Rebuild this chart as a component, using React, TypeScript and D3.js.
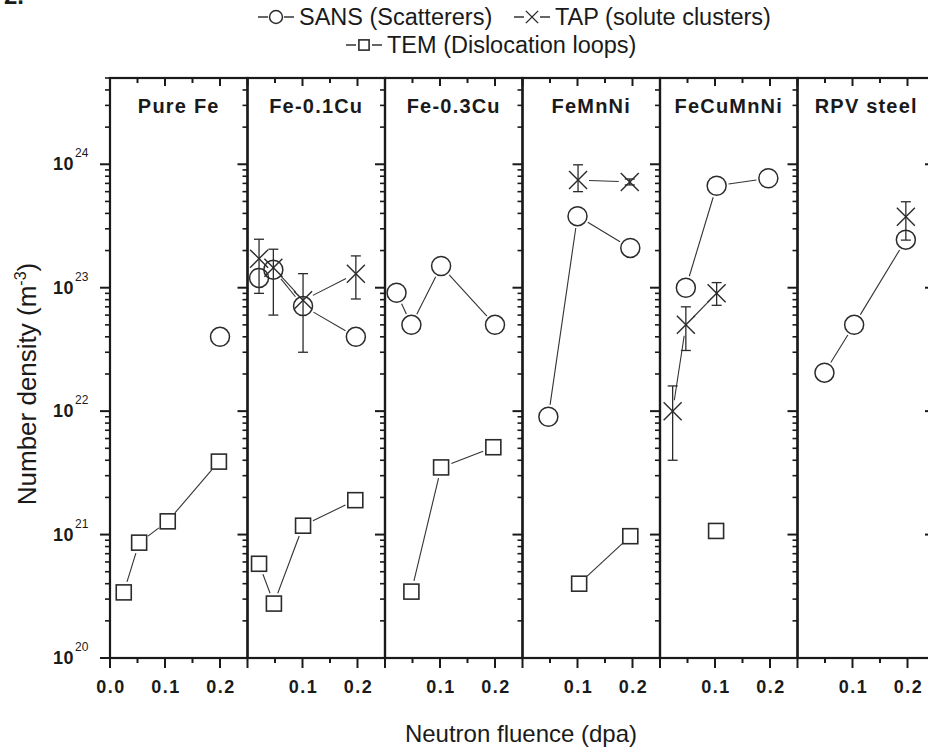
import React from "react";
import * as d3 from "d3";

// ---------- data ----------
const panelNames = ["Pure Fe", "Fe-0.1Cu", "Fe-0.3Cu", "FeMnNi", "FeCuMnNi", "RPV steel"];

// SANS (scatterers): [fluence dpa, number density m^-3]
const sansData: number[][][] = [
  [[0.2, 4.0e22]],
  [[0.021, 1.2e23], [0.047, 1.4e23], [0.101, 7.1e22], [0.197, 4.0e22]],
  [[0.021, 9.1e22], [0.048, 5.0e22], [0.102, 1.5e23], [0.2, 5.0e22]],
  [[0.047, 9.0e21], [0.1, 3.8e23], [0.196, 2.1e23]],
  [[0.047, 1.0e23], [0.103, 6.7e23], [0.197, 7.7e23]],
  [[0.049, 2.05e22], [0.103, 5.0e22], [0.197, 2.45e23]],
];

// TEM (dislocation loops)
const temData: number[][][] = [
  [[0.025, 3.4e20], [0.053, 8.6e20], [0.105, 1.28e21], [0.198, 3.9e21]],
  [[0.021, 5.8e20], [0.048, 2.76e20], [0.101, 1.18e21], [0.196, 1.9e21]],
  [[0.048, 3.45e20], [0.102, 3.5e21], [0.197, 5.1e21]],
  [[0.103, 4.0e20], [0.196, 9.7e20]],
  [[0.102, 1.07e21]],
  [],
];

// TAP (solute clusters): [fluence, value, errLow, errHigh]
const tapData: number[][][] = [
  [],
  [[0.021, 1.72e23, 9.0e22, 2.47e23], [0.047, 1.45e23, 6.0e22, 2.05e23], [0.101, 7.9e22, 3.0e22, 1.3e23], [0.197, 1.3e23, 8.1e22, 1.81e23]],
  [],
  [[0.101, 7.45e23, 6.0e23, 9.9e23], [0.195, 7.2e23, 6.8e23, 7.6e23]],
  [[0.023, 1.0e22, 4.0e21, 1.6e22], [0.047, 5.0e22, 3.1e22, 7.0e22], [0.103, 9.0e22, 7.2e22, 1.1e23]],
  [[0.197, 3.76e23, 2.43e23, 4.97e23]],
];

const xDomain = [0, 0.25];
const yDomain = [1e20, 5e24];
const xMajor = [0, 0.1, 0.2];
const xMinor = [0.05, 0.15];
const yDecades = [20, 21, 22, 23, 24];

const legendRow1 = [
  { sym: "circle", label: "SANS (Scatterers)" },
  { sym: "x", label: "TAP (solute clusters)" },
];
const legendRow2 = [{ sym: "square", label: "TEM (Dislocation loops)" }];

// ---------- layout ----------
const W = 928;
const H = 751;
const plotLeft = 110;
const plotTop = 78;
const plotBottom = 658;
const panelW = 137.5;
const ink = "#1a1a1a";
const mk = "#2b2b2b";
const FONT = "'Liberation Sans', Arial, Helvetica, sans-serif";

const y = d3.scaleLog().domain(yDomain).range([plotBottom, plotTop]);

function Marker({ sym, cx, cy, s = 1 }: { sym: string; cx: number; cy: number; s?: number }) {
  if (sym === "circle") return <circle cx={cx} cy={cy} r={9.5 * s} fill="none" stroke={mk} strokeWidth={1.5} />;
  if (sym === "square") {
    const h = 7.5 * s;
    return <rect x={cx - h} y={cy - h} width={2 * h} height={2 * h} fill="none" stroke={mk} strokeWidth={1.6} />;
  }
  const h = 9 * s;
  return (
    <g stroke={mk} strokeWidth={1.4}>
      <line x1={cx - h} y1={cy - h} x2={cx + h} y2={cy + h} />
      <line x1={cx - h} y1={cy + h} x2={cx + h} y2={cy - h} />
    </g>
  );
}

function gappedLines(pts: [number, number][], gap: number, key: string) {
  const out: React.ReactNode[] = [];
  for (let i = 0; i < pts.length - 1; i++) {
    const [x1, y1] = pts[i];
    const [x2, y2] = pts[i + 1];
    const dx = x2 - x1, dy = y2 - y1;
    const len = Math.hypot(dx, dy);
    if (len <= 2 * gap + 2) continue;
    const ux = dx / len, uy = dy / len;
    out.push(
      <line key={key + i} x1={x1 + ux * gap} y1={y1 + uy * gap} x2={x2 - ux * gap} y2={y2 - uy * gap}
        stroke="#333" strokeWidth={1.1} />
    );
  }
  return out;
}

function minorYTicks(): number[] {
  const t: number[] = [];
  for (const d of yDecades) {
    for (let m = 2; m <= 9; m++) {
      const v = m * Math.pow(10, d);
      if (v <= yDomain[1] * 1.0001) t.push(v);
    }
  }
  return t;
}

function Panel({ i }: { i: number }) {
  const left = plotLeft + i * panelW;
  const x = d3.scaleLinear().domain(xDomain).range([left, left + panelW]);
  const right = left + panelW;
  const sans = sansData[i].map((p) => [x(p[0]), y(p[1])] as [number, number]);
  const tem = temData[i].map((p) => [x(p[0]), y(p[1])] as [number, number]);
  const tap = tapData[i].map((p) => [x(p[0]), y(p[1])] as [number, number]);
  const labels = i === 0 ? xMajor : xMajor.filter((v) => v > 0);
  const fmt = d3.format(".1f");
  return (
    <g>
      {xMajor.map((v) => (
        <g key={"xm" + v}>
          <line x1={x(v)} x2={x(v)} y1={plotBottom} y2={plotBottom + 10} stroke={ink} strokeWidth={2} />
          <line x1={x(v)} x2={x(v)} y1={plotTop} y2={plotTop + 8} stroke={ink} strokeWidth={2} />
        </g>
      ))}
      {xMinor.map((v) => (
        <g key={"xn" + v}>
          <line x1={x(v)} x2={x(v)} y1={plotBottom} y2={plotBottom + 5} stroke={ink} strokeWidth={2} />
          <line x1={x(v)} x2={x(v)} y1={plotTop} y2={plotTop + 5} stroke={ink} strokeWidth={2} />
        </g>
      ))}
      {labels.map((v) => (
        <text key={"xl" + v} x={x(v) + 1} y={693} textAnchor="middle" fontFamily={FONT} fontWeight="bold"
          fontSize={18} letterSpacing={1.5} fill={ink}>{fmt(v)}</text>
      ))}
      {yDecades.map((d) => (
        <line key={"yr" + d} x1={right} x2={right - 10} y1={y(Math.pow(10, d))} y2={y(Math.pow(10, d))} stroke={ink} strokeWidth={2} />
      ))}
      {minorYTicks().map((v) => (
        <line key={"yrn" + v} x1={right} x2={right - 5} y1={y(v)} y2={y(v)} stroke={ink} strokeWidth={1.6} />
      ))}
      {i === 0 && (
        <g>
          {yDecades.map((d) => (
            <g key={"yl" + d}>
              <line x1={left} x2={left - 10} y1={y(Math.pow(10, d))} y2={y(Math.pow(10, d))} stroke={ink} strokeWidth={2} />
              <text x={74} y={y(Math.pow(10, d)) + 6} textAnchor="end" fontFamily={FONT} fontWeight="bold" fontSize={18}
                letterSpacing={0.5} fill={ink}>10</text>
              <text x={75} y={y(Math.pow(10, d)) - 7} fontFamily={FONT} fontSize={12} fill={ink}>{d}</text>
            </g>
          ))}
          {minorYTicks().map((v) => (
            <line key={"yln" + v} x1={left} x2={left - 5} y1={y(v)} y2={y(v)} stroke={ink} strokeWidth={1.6} />
          ))}
        </g>
      )}
      <rect x={left} y={plotTop} width={panelW} height={plotBottom - plotTop} fill="none" stroke={ink} strokeWidth={2.2} />
      <text x={(left + right) / 2} y={113} textAnchor="middle" fontFamily={FONT} fontWeight="bold" fontSize={20}
        letterSpacing={1.2} fill={ink}>{panelNames[i]}</text>
      {gappedLines(sans, 12, "sl" + i)}
      {gappedLines(tem, 11, "tl" + i)}
      {gappedLines(tap, 11, "al" + i)}
      {tapData[i].map((p, k) => {
        const cx = x(p[0]);
        const lo = y(p[2]);
        const hi = y(p[3]);
        return (
          <g key={"eb" + k} stroke={mk} strokeWidth={1.3}>
            <line x1={cx} x2={cx} y1={lo} y2={hi} />
            <line x1={cx - 5} x2={cx + 5} y1={lo} y2={lo} />
            <line x1={cx - 5} x2={cx + 5} y1={hi} y2={hi} />
          </g>
        );
      })}
      {sans.map(([cx, cy], k) => <Marker key={"s" + k} sym="circle" cx={cx} cy={cy} />)}
      {tem.map(([cx, cy], k) => <Marker key={"t" + k} sym="square" cx={cx} cy={cy} />)}
      {tap.map(([cx, cy], k) => <Marker key={"a" + k} sym="x" cx={cx} cy={cy} />)}
    </g>
  );
}

function LegendItem({ sym, label, x0, yc }: { sym: string; label: string; x0: number; yc: number }) {
  return (
    <g>
      <line x1={x0} x2={x0 + 36} y1={yc} y2={yc} stroke="#333" strokeWidth={1.3} />
      <rect x={x0 + 10} y={yc - 8} width={16} height={16} fill="#fff" />
      <Marker sym={sym} cx={x0 + 18} cy={yc} s={0.68} />
      <text x={x0 + 41} y={yc + 8} fontFamily={FONT} fontSize={23.5} fill={ink}>{label}</text>
    </g>
  );
}

export default function App() {
  return (
    <svg width={W} height={H} style={{ position: "absolute", left: 0, top: 0, background: "#fff" }}
      viewBox={`0 0 ${W} ${H}`}>
      <rect width={W} height={H} fill="#fff" />
      <text x={4} y={4} fontFamily={FONT} fontWeight="bold" fontSize={24} fill={ink}>2.</text>
      <LegendItem sym={legendRow1[0].sym} label={legendRow1[0].label} x0={258} yc={17} />
      <LegendItem sym={legendRow1[1].sym} label={legendRow1[1].label} x0={514} yc={17} />
      <LegendItem sym={legendRow2[0].sym} label={legendRow2[0].label} x0={346} yc={45} />
      {panelNames.map((_, i) => <Panel key={i} i={i} />)}
      <text transform={`translate(36,384) rotate(-90)`} textAnchor="middle" fontFamily={FONT} fontSize={26} fill={ink}>
        Number density (m<tspan dy={-10} fontSize={16}>-3</tspan><tspan dy={10}>)</tspan>
      </text>
      <text x={521} y={742} textAnchor="middle" fontFamily={FONT} fontSize={24} fill={ink}>Neutron fluence (dpa)</text>
    </svg>
  );
}
